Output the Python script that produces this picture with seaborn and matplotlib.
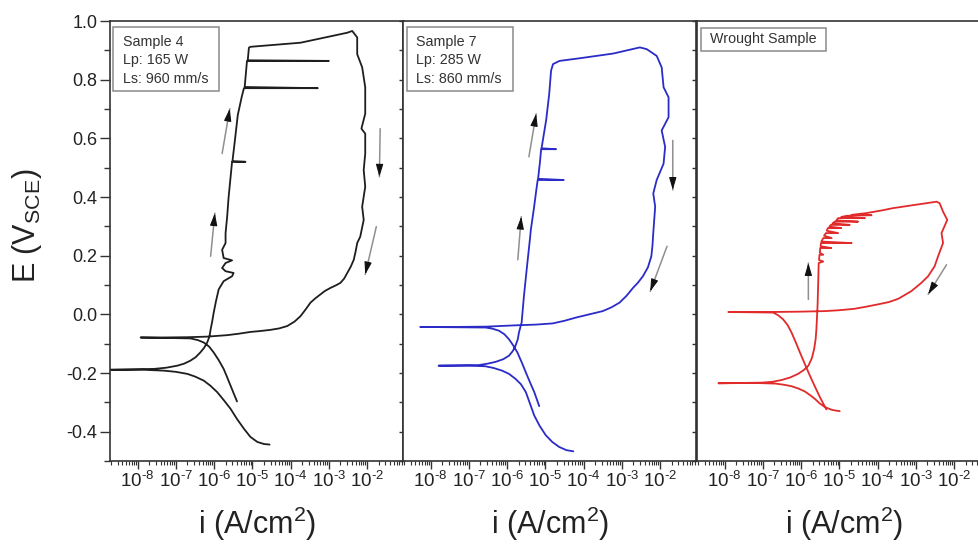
import numpy as np
import pandas as pd
import matplotlib
matplotlib.use("Agg")
import matplotlib.pyplot as plt
from matplotlib.patches import Rectangle
from matplotlib.ticker import (LogLocator, MultipleLocator, FuncFormatter,
                               NullFormatter)
import seaborn as sns

sns.set_theme(style="ticks")
plt.rcParams["font.family"] = ["Liberation Sans", "DejaVu Sans"]
plt.rcParams["mathtext.fontset"] = "custom"
plt.rcParams["mathtext.rm"] = "Liberation Sans"
plt.rcParams["mathtext.it"] = "Liberation Sans:italic"
plt.rcParams["mathtext.bf"] = "Liberation Sans:bold"
plt.rcParams["mathtext.default"] = "regular"
plt.rcParams["axes.unicode_minus"] = False

# ---------------------------------------------------------------------------
# Cyclic polarization curves: log10 of current density (A/cm^2) and potential (V vs SCE)
# ---------------------------------------------------------------------------
s4_logi = [
    # forward scan, cathodic branch
    -4.55, -4.70, -4.87, -5.05, -5.22, -5.40, -5.57, -5.75, -5.92, -6.10,
    -6.27, -6.50, -6.70, -7.00, -7.31, -7.84, -8.75,
    # anodic branch and passive range
    -7.57, -7.25, -6.96, -6.78, -6.62, -6.48, -6.36, -6.26, -6.18, -6.12,
    -6.09, -6.05, -6.01, -5.95, -5.88, -5.75, -5.53, -5.49, -5.70, -5.79,
    -5.70, -5.53, -5.75, -5.79, -5.70, -5.70,
    -5.66, -5.62, -5.56, -5.53, -5.18, -5.52, -5.45, -5.38, -5.28, -5.22,
    -3.29, -5.20, -5.17, -5.14, -3.00, -5.12, -5.09,
    -5.05, -3.74, -2.52, -2.39,
    # reverse scan
    -2.26, -2.26, -2.13, -2.05, -2.05, -2.15, -2.05, -2.05, -2.09, -2.05,
    -2.13, -2.09, -2.18, -2.26, -2.30, -2.35, -2.43, -2.52, -2.60, -2.70,
    -2.83, -2.96, -3.10, -3.22, -3.35, -3.48, -3.60, -3.74, -3.90, -4.09,
    -4.30, -4.53, -4.80, -5.05, -5.35, -5.66, -6.18, -6.70, -7.40, -7.92,
    # second cathodic branch
    -6.62, -6.42, -6.27, -6.13, -6.01, -5.88, -5.75, -5.66, -5.57, -5.48, -5.40,
]
s4_E = [
    -0.444, -0.442, -0.435, -0.418, -0.390, -0.357, -0.322, -0.292, -0.265, -0.243,
    -0.226, -0.212, -0.203, -0.196, -0.192, -0.189, -0.189,
    -0.186, -0.182, -0.175, -0.168, -0.158, -0.146, -0.130, -0.114, -0.096, -0.075,
    -0.051, -0.025, 0.006, 0.045, 0.085, 0.113, 0.130, 0.141, 0.147, 0.158,
    0.175, 0.184, 0.192, 0.220, 0.243, 0.277,
    0.330, 0.400, 0.480, 0.520, 0.520, 0.522, 0.600, 0.680, 0.740, 0.771,
    0.771, 0.775, 0.820, 0.864, 0.864, 0.866, 0.909,
    0.912, 0.926, 0.960, 0.966,
    0.944, 0.887, 0.842, 0.774, 0.684, 0.633, 0.616, 0.548, 0.492, 0.435,
    0.367, 0.322, 0.265, 0.243, 0.215, 0.186, 0.162, 0.141, 0.122, 0.107,
    0.098, 0.090, 0.080, 0.068, 0.055, 0.040, 0.018, -0.006, -0.025, -0.040,
    -0.048, -0.053, -0.057, -0.060, -0.066, -0.071, -0.076, -0.078, -0.079, -0.079,
    -0.082, -0.088, -0.096, -0.110, -0.130, -0.156, -0.186, -0.214, -0.243, -0.272, -0.297,
]

s7_logi = [
    -4.27, -4.45, -4.64, -4.82, -4.99, -5.15, -5.29, -5.40, -5.51, -5.64,
    -5.78, -5.95, -6.13, -6.35, -6.57, -7.00, -7.79,
    -6.74, -6.50, -6.30, -6.10, -5.95, -5.85, -5.78, -5.72, -5.69, -5.62,
    -5.56, -5.47, -5.40, -5.38,
    -5.30, -5.24, -5.20, -4.52, -5.19, -5.14, -5.11, -4.72, -5.10, -4.98,
    -4.90, -4.85, -4.80, -4.63, -4.10, -3.23, -2.53, -2.35, -2.09, -1.96,
    -1.91, -1.78, -1.78, -1.96, -1.87, -1.91, -2.09, -2.18, -2.13, -2.18,
    -2.20, -2.23, -2.32, -2.45, -2.58, -2.71, -2.88, -3.06, -3.27, -3.50,
    -3.85, -4.20, -4.50, -4.81, -5.25, -5.69, -6.56, -7.44, -8.27,
    -6.56, -6.38, -6.21, -6.07, -5.95, -5.84, -5.73, -5.62, -5.51, -5.40, -5.29, -5.16,
]
s7_E = [
    -0.467, -0.463, -0.452, -0.435, -0.412, -0.380, -0.345, -0.305, -0.265, -0.238,
    -0.220, -0.203, -0.192, -0.183, -0.177, -0.175, -0.175,
    -0.173, -0.168, -0.162, -0.153, -0.141, -0.125, -0.107, -0.085, -0.062, -0.028,
    0.062, 0.175, 0.260, 0.288,
    0.360, 0.420, 0.458, 0.458, 0.462, 0.520, 0.563, 0.563, 0.566, 0.661,
    0.750, 0.831, 0.853, 0.864, 0.873, 0.889, 0.910, 0.904, 0.881, 0.842,
    0.774, 0.740, 0.672, 0.627, 0.571, 0.514, 0.458, 0.412, 0.367, 0.277,
    0.235, 0.198, 0.160, 0.130, 0.108, 0.090, 0.063, 0.040, 0.024, 0.011,
    0.000, -0.011, -0.022, -0.031, -0.035, -0.037, -0.042, -0.043, -0.043,
    -0.045, -0.049, -0.056, -0.068, -0.085, -0.106, -0.130, -0.163, -0.198, -0.232, -0.265, -0.313,
]

wr_logi = [
    -4.99, -5.10, -5.21, -5.38, -5.52, -5.64, -5.77, -5.90, -6.07, -6.25,
    -6.45, -6.68, -7.21, -8.16,
    -7.03, -6.75, -6.51, -6.28, -6.08, -5.93, -5.81, -5.72, -5.66, -5.62,
    -5.60, -5.57, -5.55, -5.54, -5.42,
    -5.53, -5.52, -5.42, -5.51, -5.50, -5.21, -5.49, -5.48, -4.68, -5.47,
    -5.42, -5.20, -5.40, -5.35, -5.03, -5.33, -5.30, -4.95, -5.26, -5.22,
    -4.73, -5.18, -5.12, -4.51, -5.08, -5.03, -4.33, -4.95, -4.80, -4.16,
    -4.68, -4.30, -3.90, -3.60, -3.03, -2.46, -2.38,
    -2.29, -2.18, -2.33, -2.29, -2.42, -2.51, -2.68, -2.86, -3.12, -3.46,
    -3.70, -3.99, -4.30, -4.60, -5.00, -5.38, -6.08, -6.77, -7.90,
    -6.73, -6.60, -6.47, -6.35, -6.25, -6.14, -6.03, -5.90, -5.77, -5.64, -5.51, -5.34,
]
wr_E = [
    -0.330, -0.328, -0.325, -0.316, -0.303, -0.288, -0.275, -0.263, -0.253, -0.245,
    -0.240, -0.236, -0.234, -0.235,
    -0.233, -0.230, -0.224, -0.215, -0.203, -0.190, -0.175, -0.150, -0.119, -0.085,
    -0.051, 0.028, 0.119, 0.175, 0.180,
    0.185, 0.203, 0.203, 0.210, 0.226, 0.226, 0.232, 0.243, 0.243, 0.248,
    0.260, 0.260, 0.268, 0.277, 0.277, 0.285, 0.294, 0.294, 0.299, 0.305,
    0.305, 0.310, 0.316, 0.316, 0.320, 0.328, 0.328, 0.332, 0.336, 0.338,
    0.339, 0.345, 0.354, 0.362, 0.373, 0.384, 0.379,
    0.350, 0.322, 0.277, 0.243, 0.198, 0.164, 0.130, 0.107, 0.079, 0.053,
    0.042, 0.034, 0.026, 0.019, 0.014, 0.011, 0.009, 0.008, 0.008,
    0.006, -0.003, -0.017, -0.037, -0.062, -0.095, -0.130, -0.170, -0.209, -0.246, -0.282, -0.324,
]

sample_labels = ["Sample 4\nLp: 165 W\nLs: 960 mm/s",
                 "Sample 7\nLp: 285 W\nLs: 860 mm/s",
                 "Wrought Sample"]
line_colors = ["#1e1e1e", "#2b2bc8", "#e12a2a"]

# scan-direction arrows: (log10 i, E) start -> end
arrows = [
    [((-5.79, 0.548), (-5.59, 0.701)), ((-6.09, 0.198), (-5.98, 0.345)),
     ((-1.66, 0.633), (-1.68, 0.469)), ((-1.76, 0.299), (-2.05, 0.136))],
    [((-5.43, 0.537), (-5.24, 0.684)), ((-5.72, 0.186), (-5.63, 0.333)),
     ((-1.67, 0.593), (-1.67, 0.424)), ((-1.82, 0.232), (-2.26, 0.078))],
    [((-5.81, 0.051), (-5.81, 0.175)), ((-2.20, 0.169), (-2.68, 0.068))],
]


def decade_label(v, pos):
    """Power-of-ten tick label with a plain hyphen in the exponent."""
    if v <= 0:
        return ""
    e = int(round(np.log10(v)))
    sign = r"\text{-}" if e < 0 else ""
    return r"$10^{%s%d}$" % (sign, abs(e))


# ---------------------------------------------------------------------------
W, H = 979, 547
fig = plt.figure(figsize=(W / 100, H / 100), dpi=100)
fig.patch.set_facecolor("white")

ax_left_px = [110, 403, 697]
ax_w_px = 293.5
ax_bot_px, ax_h_px = 86, 440
spine_c = "#333333"

# label boxes in axes fraction: (x0, y0, w, h, text_x, text_y)
boxes = [
    (0.010, 0.841, 0.362, 0.145, 0.043, 0.911),
    (0.014, 0.841, 0.361, 0.145, 0.044, 0.911),
    (0.014, 0.932, 0.427, 0.052, 0.044, 0.958),
]

datasets = [(s4_logi, s4_E), (s7_logi, s7_E), (wr_logi, wr_E)]

for k in range(3):
    ax = fig.add_axes([ax_left_px[k] / W, ax_bot_px / H, ax_w_px / W, ax_h_px / H])
    logi, E = datasets[k]
    df = pd.DataFrame({"i": np.power(10.0, np.array(logi)), "E": E})
    sns.lineplot(data=df, x="i", y="E", sort=False, estimator=None,
                 color=line_colors[k], lw=1.3, solid_joinstyle="round",
                 solid_capstyle="round", ax=ax)
    ax.set_xscale("log")
    ax.set_xlim(10 ** -8.72, 10 ** -1.05)
    ax.set_ylim(-0.5, 1.0)

    for s in ax.spines.values():
        s.set_visible(True)
        s.set_color(spine_c)
        s.set_linewidth(1.2)

    # x axis: log decades
    ax.xaxis.set_major_locator(LogLocator(base=10, numticks=100))
    ax.xaxis.set_minor_locator(LogLocator(base=10, subs=np.arange(2, 10), numticks=100))
    ax.xaxis.set_major_formatter(FuncFormatter(decade_label))
    ax.xaxis.set_minor_formatter(NullFormatter())
    ax.tick_params(axis="x", which="major", direction="out", length=5.5, width=1.0,
                   color=spine_c, labelsize=13.5, pad=1.5, labelcolor="#222222")
    ax.tick_params(axis="x", which="minor", direction="out", length=3, width=0.8,
                   color=spine_c)
    ax.set_xlabel("i (A/cm$^2$)", fontsize=22, color="#222222")
    ax.xaxis.set_label_coords(0.5, -0.1)
    ax.xaxis.label.set_va("top")

    # y axis
    ax.yaxis.set_major_locator(MultipleLocator(0.2))
    ax.yaxis.set_minor_locator(MultipleLocator(0.1))
    if k == 0:
        ax.yaxis.set_major_formatter(FuncFormatter(lambda v, p: f"{v:.1f}".replace("-0.0", "0.0")))
        ax.tick_params(axis="y", which="major", direction="out", length=7, width=1.0,
                       color=spine_c, labelsize=13, pad=2, labelcolor="#222222")
        ax.tick_params(axis="y", which="minor", direction="out", length=4.5, width=1.0,
                       color=spine_c)
        ax.set_ylabel("E (V$_{\\mathrm{SCE}}$)", fontsize=22, color="#222222")
        ax.yaxis.set_label_coords(-0.225, 0.534)
    else:
        ax.tick_params(axis="y", which="both", left=False, labelleft=False)
        ax.set_ylabel("")

    sec = ax.secondary_yaxis("right")
    sec.yaxis.set_major_locator(MultipleLocator(0.1))
    sec.tick_params(axis="y", which="both", direction="in", length=3.5, width=1.0,
                    color=spine_c, labelright=False)
    sec.spines["right"].set_color(spine_c)
    sec.spines["right"].set_linewidth(1.2)

    # sample label box
    x0, y0, bw, bh, tx, ty = boxes[k]
    ax.add_patch(Rectangle((x0, y0), bw, bh, transform=ax.transAxes,
                           facecolor="white", edgecolor="#8a8a8a", lw=1.1, zorder=5))
    ax.text(tx, ty, sample_labels[k], transform=ax.transAxes, fontsize=10.3,
            ha="left", va="center", linespacing=1.4, color="#333333", zorder=6)

    # scan direction arrows
    for (xs, ys), (xe, ye) in arrows[k]:
        ax.annotate("", xy=(10 ** xe, ye), xytext=(10 ** xs, ys),
                    arrowprops=dict(arrowstyle="-", color="#8f8f8f", lw=1.1,
                                    shrinkA=0, shrinkB=0), zorder=4)
        hx = xs + 0.8 * (xe - xs)
        hy = ys + 0.8 * (ye - ys)
        ax.annotate("", xy=(10 ** xe, ye), xytext=(10 ** hx, hy),
                    arrowprops=dict(arrowstyle="-|>,head_length=0.75,head_width=0.22",
                                    color="#111111", lw=0.8, shrinkA=0, shrinkB=0,
                                    mutation_scale=10), zorder=4)

fig.savefig("out.png", dpi=100, facecolor="white")
